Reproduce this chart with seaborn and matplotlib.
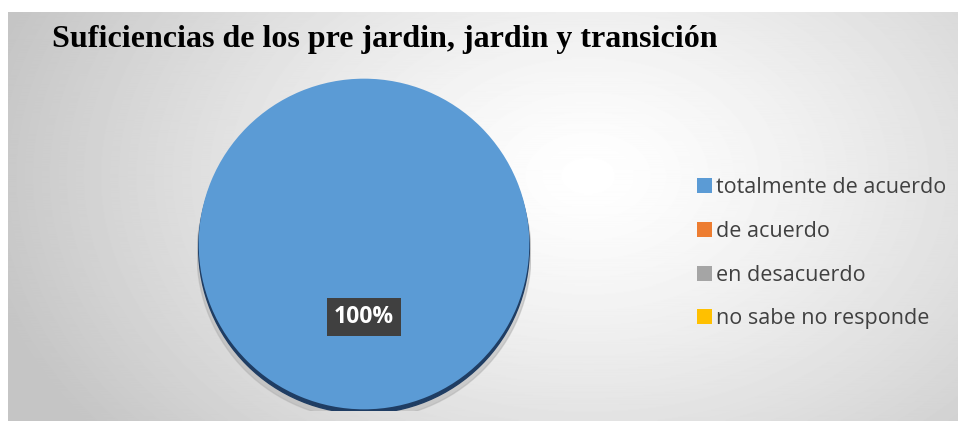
import numpy as np
import matplotlib
matplotlib.use("Agg")
import matplotlib.pyplot as plt
import seaborn as sns
from matplotlib.patches import Ellipse, Rectangle

# datos
categorias = ["totalmente de acuerdo", "de acuerdo", "en desacuerdo", "no sabe no responde"]
porcentajes = [100, 0, 0, 0]
titulo = "Suficiencias de los pre jardin, jardin y transición"

sns.set_theme(style="white")
colores = sns.color_palette(["#5B9BD5", "#ED7D31", "#A5A5A5", "#FFC000"])

W, H = 958, 421
fig = plt.figure(figsize=(W / 100, H / 100), dpi=100)
fig.patch.set_facecolor("white")

# fondo con degradado radial
bg = fig.add_axes([8 / W, 0, 1 - 8 / W, 1 - 12 / H])
yy, xx = np.mgrid[0:400, 0:950]
d = np.sqrt(((xx - 580) / 620.0) ** 2 + ((yy - 160) / 420.0) ** 2)
val = 1.0 - 0.23 * np.clip(d, 0, 1) ** 1.3
bg.imshow(val, cmap="gray", vmin=0, vmax=1, aspect="auto", extent=[0, 1, 0, 1])
bg.set_axis_off()

# pastel
cx, cy, r = 364, 244, 167
ax = fig.add_axes([(cx - r) / W, (H - cy - r) / H, 2 * r / W, 2 * r / H])

ax.add_patch(Ellipse((0.0, -0.06), 2.0, 1.98, color="#b0b0b0", alpha=0.5, zorder=0))
ax.add_patch(Ellipse((0.0, -0.025), 1.98, 1.98, color="#1f3d63", zorder=1))

wedges, textos, autotextos = ax.pie(
    porcentajes,
    colors=colores,
    startangle=90,
    counterclock=False,
    autopct=lambda p: f"{p:.0f}%" if p > 0 else "",
    pctdistance=0.44,
    radius=0.99,
    textprops=dict(color="white", fontsize=16.5, fontweight="bold", family="Open Sans"),
    wedgeprops=dict(linewidth=0),
)
for w in wedges:
    w.set_zorder(2)
for t in autotextos:
    t.set_zorder(4)
    t.set_bbox(dict(boxstyle="square,pad=0.3", facecolor="#404040", edgecolor="none"))

ax.set_xlim(-1.0, 1.0)
ax.set_ylim(-1.0, 1.0)
ax.set_aspect("equal")
ax.set_axis_off()

# titulo
fig.text(52 / W, 1 - 40 / H, titulo, family="Liberation Serif", fontweight="bold",
         fontsize=23, color="black", va="center", ha="left")

# leyenda
handles = [Rectangle((0, 0), 1, 1, facecolor=c, edgecolor="none") for c in colores]
fig.legend(handles, categorias, loc="upper left", bbox_to_anchor=(678 / W, 1 - 158 / H),
           frameon=False, labelcolor="#404040", handlelength=0.7,
           handleheight=0.7, handletextpad=0.15, labelspacing=1.05,
           prop=dict(family="Open Sans", size=15.5))

fig.savefig("out.png", dpi=100)
